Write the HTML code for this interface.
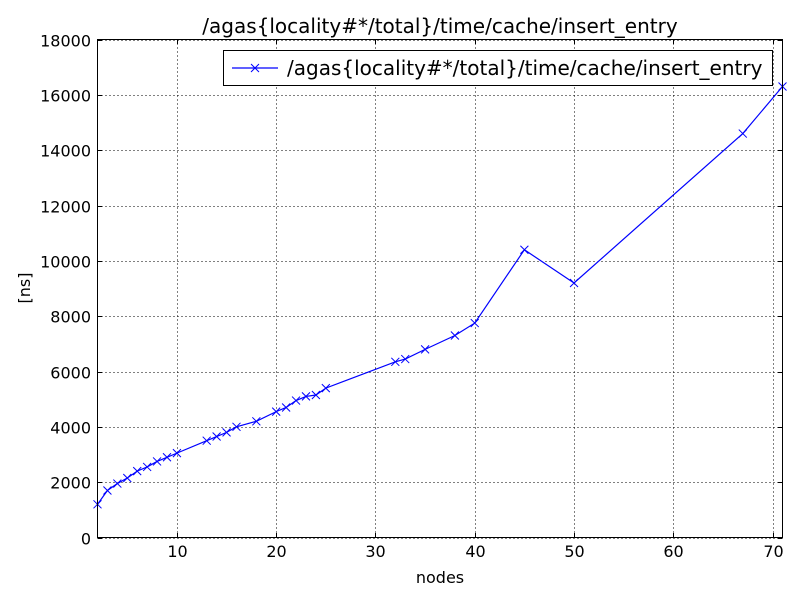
<!DOCTYPE html>
<html><head><meta charset="utf-8"><style>
body{margin:0;background:#fff;}
svg text{font-family:"DejaVu Sans","Liberation Sans",sans-serif;}
</style></head><body>
<svg id="chart" width="800" height="600">
<rect width="800" height="600" fill="#fff"/>
<text x="440" y="33" font-size="20" text-anchor="middle">/agas{locality#*/total}/time/cache/insert_entry</text>
<g id="grid"></g>
<g id="ticks"></g>
<g id="series"></g>
<rect x="97.5" y="39.5" width="685" height="498" fill="none" stroke="#000"/>
<text x="440" y="583" font-size="16" text-anchor="middle">nodes</text>
<text x="30" y="288" font-size="16" text-anchor="middle" transform="rotate(-90 30 288)">[ns]</text>
<g>
<rect x="223.5" y="50.5" width="549" height="35" fill="#fff" stroke="#000"/>
<line x1="232" y1="68" x2="278" y2="68" stroke="#00f" stroke-width="1.2"/>
<path d="M251,64 l8,8 M251,72 l8,-8" stroke="#00f" stroke-width="1"/>
<text x="287" y="75" font-size="20">/agas{locality#*/total}/time/cache/insert_entry</text>
</g>
</svg>
<script>
const xs=[2,3,4,5,6,7,8,9,10,13,14,15,16,18,20,21,22,23,24,25,32,33,35,38,40,45,50,67,71];
const ys=[1200,1700,1950,2150,2400,2550,2750,2900,3050,3500,3650,3800,4000,4200,4550,4700,4950,5100,5150,5400,6350,6450,6800,7300,7750,10400,9200,14600,16300];
const xTicks=[10,20,30,40,50,60,70];
const yTicks=[0,2000,4000,6000,8000,10000,12000,14000,16000,18000];
const NS='http://www.w3.org/2000/svg';
const X=v=>97.5+(v-2)*(685/69);
const Y=v=>537.5-v*(498/18000);
function mk(t,a,p){const e=document.createElementNS(NS,t);for(const k in a)e.setAttribute(k,a[k]);p.appendChild(e);return e;}
const g=document.getElementById('grid'),tk=document.getElementById('ticks'),s=document.getElementById('series');
xTicks.forEach(v=>{const x=Math.round(X(v))+0.5;
const l=mk('line',{x1:x,y1:39.5,x2:x,y2:537.5,stroke:'#000','stroke-dasharray':'1,3'},g);


mk('line',{x1:x,y1:537.5,x2:x,y2:533,stroke:'#000'},tk);
mk('line',{x1:x,y1:39.5,x2:x,y2:44,stroke:'#000'},tk);
const t=mk('text',{x:x,y:557,'font-size':16,'text-anchor':'middle'},tk);t.textContent=v;

});
yTicks.forEach(v=>{const y=Math.round(Y(v))+0.5;
const l=mk('line',{x1:97.5,y1:y,x2:782.5,y2:y,stroke:'#000','stroke-dasharray':'1,3'},g);


mk('line',{x1:97.5,y1:y,x2:102,y2:y,stroke:'#000'},tk);
mk('line',{x1:782.5,y1:y,x2:778,y2:y,stroke:'#000'},tk);
const t=mk('text',{x:91,y:y+6,'font-size':16,'text-anchor':'end'},tk);t.textContent=v;

});
const line=mk('polyline',{points:xs.map((x,i)=>X(x)+','+Y(ys[i])).join(' '),fill:'none',stroke:'#00f','stroke-width':1.2},s);


xs.forEach((x,i)=>{const cx=X(x),cy=Y(ys[i]);
const m=mk('path',{d:`M${cx-4},${cy-4}l8,8M${cx-4},${cy+4}l8,-8`,stroke:'#00f','stroke-width':1},s);

});
</script>
</body></html>
